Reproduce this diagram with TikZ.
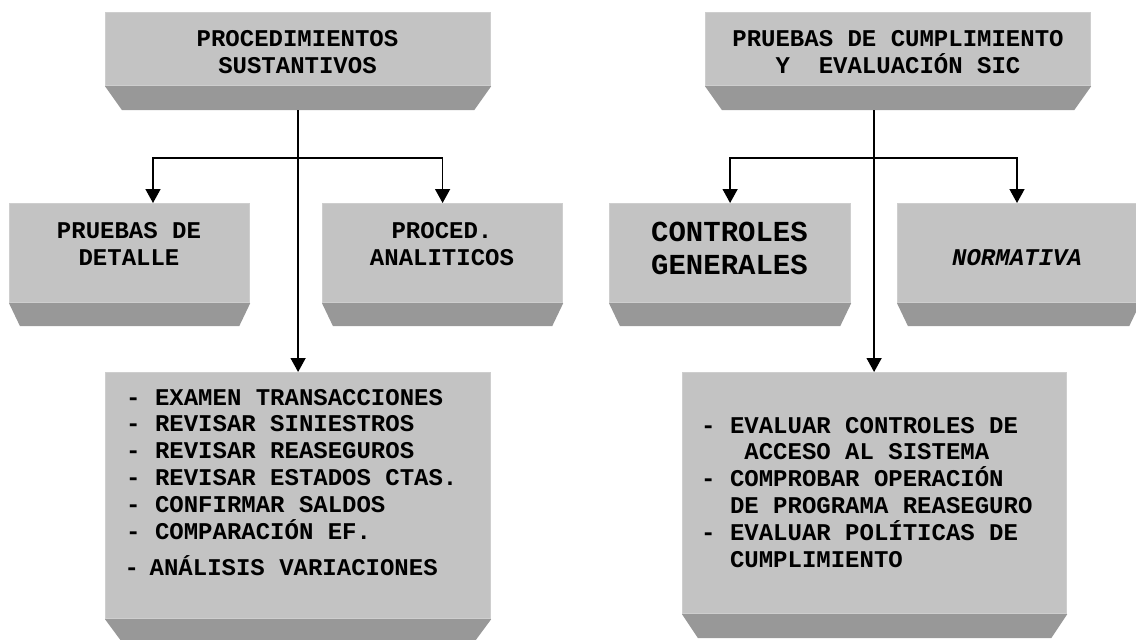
\documentclass[tikz,border=0pt]{standalone}
\usepackage{fontspec}
\setmonofont{Liberation Mono}
\usetikzlibrary{arrows.meta,calc}
\definecolor{facegray}{HTML}{C3C3C3}
\definecolor{edgegray}{HTML}{CECECE}
\definecolor{bevelgray}{HTML}{989898}
\newcommand\centerlines[2]{\vtop{\baselineskip=#1\halign{\hfil##\hfil\cr#2\crcr}}}
\newcommand\leftlines[2]{\vtop{\baselineskip=#1\halign{##\hfil\cr#2\crcr}}}
\newcommand\drawbevel[3]{\fill[bevelfill] (#1.south west) -- (#1.south east) -- ++(-#3,-#2) -- ($(#1.south west)+(#3,-#2)$) -- cycle;}
\tikzset{
  face/.style={rectangle, fill=facegray, draw=edgegray, line width=1.2pt, inner sep=0pt, anchor=north west},
  bevelfill/.style={fill=bevelgray},
  lbl/.style={font=\ttfamily\bfseries\fontsize{24pt}{27pt}\selectfont, inner sep=0pt, anchor=base},
  biglbl/.style={font=\ttfamily\bfseries\fontsize{29pt}{33pt}\selectfont, inner sep=0pt, anchor=base},
  conn/.style={line width=1.5pt, black},
  arr/.style={conn, -{Triangle[width=15pt,length=14pt]}},
}
\begin{document}
\begin{tikzpicture}[x=1pt,y=1pt]
\useasboundingbox (0,0) rectangle (1136,-640);
\fill[white] (0,0) rectangle (1136,-640);
% boxes
\node[face, minimum width=385pt, minimum height=73pt] (ps) at (105,-12) {};
\drawbevel{ps}{24}{17}
\node[face, minimum width=385pt, minimum height=73pt] (pc) at (705,-12) {};
\drawbevel{pc}{24}{17}
\node[face, minimum width=240pt, minimum height=99pt] (pd) at (9,-203) {};
\drawbevel{pd}{23}{11}
\node[face, minimum width=240pt, minimum height=99pt] (pa) at (322,-203) {};
\drawbevel{pa}{23}{11}
\node[face, minimum width=241pt, minimum height=99pt] (cg) at (609,-203) {};
\drawbevel{cg}{23}{11}
\node[face, minimum width=242pt, minimum height=99pt] (nm) at (897,-203) {};
\drawbevel{nm}{23}{11}
\node[face, minimum width=385pt, minimum height=246pt] (bl) at (105,-372) {};
\drawbevel{bl}{23}{17}
\node[face, minimum width=384pt, minimum height=241pt] (br) at (682,-372) {};
\drawbevel{br}{24}{16}
% connectors left
\coordinate (psb) at ($(ps.south)+(0,-24)$);
\coordinate (jl) at ($(ps.south)+(0,-72)$);
\coordinate (pdin) at ($(pd.north west)+(144,0)$);
\draw[arr] (psb) -- (bl.north);
\draw[arr] (jl) -| (pdin);
\draw[arr] (jl) -| (pa.north);
% connectors right
\coordinate (pcb) at ($(pc.south)+(-24,-24)$);
\coordinate (jr) at ($(pc.south)+(-24,-72)$);
\coordinate (nmin) at ($(nm.north west)+(120,0)$);
\draw[arr] (pcb) -- (pcb |- br.north);
\draw[arr] (jr) -| (cg.north);
\draw[arr] (jr) -| (nmin);
% labels
\node[lbl] (tps) at (297.5,-46) {\centerlines{27pt}{PROCEDIMIENTOS\cr SUSTANTIVOS}};
\node[lbl] (tpc) at (898,-46) {\centerlines{27pt}{PRUEBAS DE CUMPLIMIENTO\cr Y~~EVALUACIÓN SIC}};
\node[lbl] (tpd) at (129,-238) {\centerlines{27pt}{PRUEBAS DE\cr DETALLE}};
\node[lbl] (tpa) at (442,-238) {\centerlines{27pt}{PROCED.\cr ANALITICOS}};
\node[biglbl] (tcg) at (729.5,-241.5) {\centerlines{33pt}{CONTROLES\cr GENERALES}};
\node[lbl, font=\ttfamily\bfseries\itshape\fontsize{24pt}{27pt}\selectfont] (tnm) at (1017,-265) {NORMATIVA};
\node[lbl, anchor=base west] (tbl) at (126,-405) {\leftlines{26.8pt}{- EXAMEN TRANSACCIONES\cr - REVISAR SINIESTROS\cr - REVISAR REASEGUROS\cr - REVISAR ESTADOS CTAS.\cr - CONFIRMAR SALDOS\cr - COMPARACIÓN EF.}};
\node[lbl, anchor=base west] (tbl2) at (124.5,-575) {-\hspace{10.6pt}ANÁLISIS VARIACIONES};
\node[lbl, anchor=base west] (tbr) at (701,-433) {\leftlines{26.8pt}{- EVALUAR CONTROLES DE\cr ~~~ACCESO AL SISTEMA\cr - COMPROBAR OPERACIÓN\cr ~~DE PROGRAMA REASEGURO\cr - EVALUAR POLÍTICAS DE\cr ~~CUMPLIMIENTO}};
\end{tikzpicture}
\end{document}
